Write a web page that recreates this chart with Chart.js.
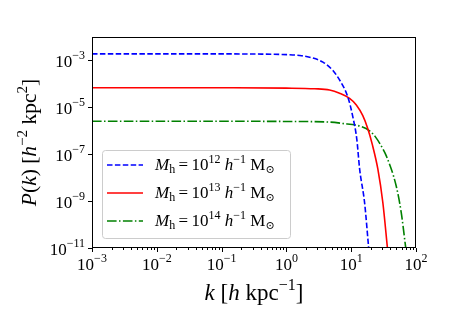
<!DOCTYPE html>
<html>
<head>
<meta charset="utf-8">
<script src="https://cdn.jsdelivr.net/npm/chart.js@4/dist/chart.umd.min.js"></script>
<style>
  html, body { margin: 0; padding: 0; background: #fff; }
  canvas { display: block; }
</style>
</head>
<body>
<canvas id="pk" width="463" height="309"></canvas>
<script>
// halo masses, log10(M_h / h^-1 Msun)
const massExps = [12, 13, 14];

// P(k)
const k12 = [0.001, 0.01, 0.1, 0.3, 1.12, 1.6, 2.28, 3.66, 5.22, 6.95, 8.9, 10.5, 12.2, 13.5, 16.1, 18.5, 19.5];
const p12 = [1.9e-3, 1.9e-3, 1.9e-3, 1.88e-3, 1.75e-3, 1.63e-3, 1.38e-3, 8.5e-4, 3.7e-4, 1.17e-4, 2.7e-5, 4.4e-6, 4.4e-7, 2.3e-8, 8.5e-10, 1.2e-11, 2.5e-12];

const k13 = [0.001, 0.01, 0.1, 1, 2.73, 4.64, 6.62, 9.44, 12.0, 15.1, 18.1, 21.1, 25.8, 30.8, 36, 38];
const p13 = [6.8e-5, 6.8e-5, 6.8e-5, 6.6e-5, 6.2e-5, 5.5e-5, 4.0e-5, 2.4e-5, 1.26e-5, 4.4e-6, 1.2e-6, 2.7e-7, 2.3e-8, 8.5e-10, 1.2e-11, 2.6e-12];

const k14 = [0.001, 0.01, 0.1, 1, 4.6, 7.4, 13.4, 19.2, 24.1, 30.8, 34.8, 49.5, 59.2, 68.9, 72];
const p14 = [2.55e-6, 2.55e-6, 2.55e-6, 2.5e-6, 2.35e-6, 2.05e-6, 1.6e-6, 1.0e-6, 5.1e-7, 1.7e-7, 8.5e-8, 4.4e-9, 3.2e-10, 1.2e-11, 4.5e-12];

// tick labels (powers of ten)
const xTickExps = [-3, -2, -1, 0, 1, 2];
const yTickExps = [-11, -9, -7, -5, -3];

const SERIF = '"Liberation Serif", "DejaVu Serif", serif';

const series = [
  { k: k12, p: p12, color: "#0000ff", dash: [5.5, 2.4] },
  { k: k13, p: p13, color: "#ff0000", dash: [] },
  { k: k14, p: p14, color: "#008000", dash: [9.6, 2.4, 1.5, 2.4] },
];

// draw a list of text pieces with mixed style/size/offset
function richWidth(ctx, pieces) {
  let w = 0;
  for (const p of pieces) {
    ctx.font = (p.i ? "italic " : "") + p.size + "px " + SERIF;
    w += ctx.measureText(p.t).width;
  }
  return w;
}
function drawRich(ctx, pieces, x, y, align) {
  const w = richWidth(ctx, pieces);
  let cx = align === "center" ? x - w / 2 : align === "right" ? x - w : x;
  ctx.textAlign = "left";
  ctx.textBaseline = "alphabetic";
  for (const p of pieces) {
    ctx.font = (p.i ? "italic " : "") + p.size + "px " + SERIF;
    ctx.fillText(p.t, cx, y + (p.dy || 0));
    cx += ctx.measureText(p.t).width;
  }
}
function powPieces(e) {
  return [
    { t: "10", size: 17 },
    { t: (e < 0 ? "\u2212" : "") + Math.abs(e), size: 12, dy: -8.5 },
  ];
}

const axesPlugin = {
  id: "mplAxes",
  afterDraw(chart) {
    const ctx = chart.ctx;
    const a = chart.chartArea;
    const xs = chart.scales.x, ys = chart.scales.y;
    ctx.save();
    ctx.fillStyle = "#000";
    ctx.strokeStyle = "#000";
    ctx.lineWidth = 1;

    // frame
    ctx.strokeRect(a.left + 0.5, a.top + 0.5, a.right - a.left - 1, a.bottom - a.top - 1);

    // x ticks
    ctx.beginPath();
    for (const e of xTickExps) {
      const px = Math.round(xs.getPixelForValue(Math.pow(10, e))) + 0.5;
      ctx.moveTo(px, a.bottom);
      ctx.lineTo(px, a.bottom + 4);
      if (e < xTickExps[xTickExps.length - 1]) {
        for (let d = 2; d <= 9; d++) {
          const mx = Math.round(xs.getPixelForValue(d * Math.pow(10, e))) + 0.5;
          ctx.moveTo(mx, a.bottom);
          ctx.lineTo(mx, a.bottom + 2);
        }
      }
    }
    // y ticks
    for (const e of yTickExps) {
      const py = Math.round(ys.getPixelForValue(Math.pow(10, e))) + 0.5;
      ctx.moveTo(a.left, py);
      ctx.lineTo(a.left - 4, py);
    }
    ctx.stroke();

    // tick labels
    for (const e of xTickExps) {
      drawRich(ctx, powPieces(e), xs.getPixelForValue(Math.pow(10, e)), a.bottom + 22, "center");
    }
    for (const e of yTickExps) {
      drawRich(ctx, powPieces(e), a.left - 7, ys.getPixelForValue(Math.pow(10, e)) + 7, "right");
    }

    // axis titles
    drawRich(ctx, [
      { t: "k", size: 23, i: true },
      { t: " [", size: 23 },
      { t: "h", size: 23, i: true },
      { t: " kpc", size: 23 },
      { t: "\u22121", size: 16, dy: -10 },
      { t: "]", size: 23 },
    ], (a.left + a.right) / 2, 300, "center");

    ctx.save();
    ctx.translate(36, (a.top + a.bottom) / 2);
    ctx.rotate(-Math.PI / 2);
    drawRich(ctx, [
      { t: "P", size: 21.5, i: true },
      { t: "(", size: 21.5 },
      { t: "k", size: 21.5, i: true },
      { t: ") [", size: 21.5 },
      { t: "h", size: 21.5, i: true },
      { t: "\u22122", size: 15, dy: -9.5 },
      { t: " kpc", size: 21.5 },
      { t: "2", size: 15, dy: -9.5 },
      { t: "]", size: 21.5 },
    ], 0, 0, "center");
    ctx.restore();

    // legend
    const bx = 102, by = 150, bw = 188, bh = 88;
    ctx.beginPath();
    ctx.roundRect(bx + 0.5, by + 0.5, bw, bh, 3);
    ctx.fillStyle = "rgba(255,255,255,0.8)";
    ctx.fill();
    ctx.strokeStyle = "#cccccc";
    ctx.stroke();
    ctx.fillStyle = "#000";
    series.forEach((s, i) => {
      const ly = 165 + i * 28;
      ctx.beginPath();
      ctx.setLineDash(s.dash);
      ctx.strokeStyle = s.color;
      ctx.lineWidth = 1.6;
      ctx.moveTo(107, ly);
      ctx.lineTo(143, ly);
      ctx.stroke();
      ctx.setLineDash([]);
      drawRich(ctx, [
        { t: "M", size: 17, i: true },
        { t: "h", size: 12, dy: 3 },
        { t: "\u2009=\u2009", size: 17 },
        { t: "10", size: 17 },
        { t: String(massExps[i]), size: 12, dy: -7.5 },
        { t: " h", size: 17, i: true },
        { t: "\u22121", size: 12, dy: -7.5 },
        { t: " M", size: 17 },
        { t: "\u2299", size: 11, dy: 3 },
      ], 155, ly + 5, "left");
    });
    ctx.restore();
  },
};

new Chart(document.getElementById("pk"), {
  type: "line",
  data: {
    datasets: series.map((s, i) => ({
      label: "M_h = 10^" + massExps[i],
      data: s.k.map((k, j) => ({ x: k, y: s.p[j] })),
      borderColor: s.color,
      borderDash: s.dash,
      borderWidth: 1.6,
      pointRadius: 0,
      fill: false,
      cubicInterpolationMode: "monotone",
    })),
  },
  options: {
    responsive: false,
    animation: false,
    layout: { padding: { left: 0, top: 37, right: 47, bottom: 0 } },
    plugins: { legend: { display: false }, tooltip: { enabled: false } },
    scales: {
      x: {
        type: "logarithmic",
        min: 1e-3,
        max: 1e2,
        grid: { display: false },
        border: { display: false },
        ticks: { display: false },
        afterFit: (s) => { s.height = 61; },
      },
      y: {
        type: "logarithmic",
        min: 1e-11,
        max: 1e-2,
        grid: { display: false },
        border: { display: false },
        ticks: { display: false },
        afterFit: (s) => { s.width = 92; },
      },
    },
  },
  plugins: [axesPlugin],
});
</script>
</body>
</html>
